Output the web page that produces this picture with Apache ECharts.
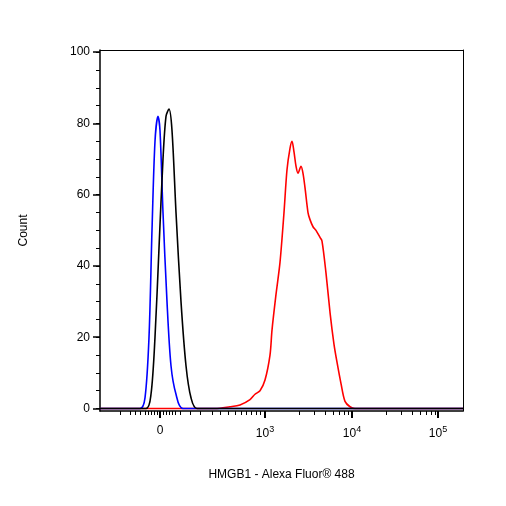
<!DOCTYPE html>
<html><head><meta charset="utf-8">
<script src="https://cdn.jsdelivr.net/npm/echarts@6/dist/echarts.min.js"></script>
<style>html,body{margin:0;padding:0;background:#fff}#c{width:506px;height:506px}</style>
</head><body><div id="c"></div>
<script>
// x values are in display channel units (0 = zero, 10^3 at 105, 10^4 at 192, 10^5 at 278)
const xTickVals = [0, 105, 192, 278];
const xTickLabels = ['0', '10^3', '10^4', '10^5'];
const yTickVals = [0, 20, 40, 60, 80, 100];
const blueData = [[-60,0],[-20,0],[-15,3],[-11,20],[-8,50],[-5,75],[-2,82],[0,78],[3,55],[7,30],[11,12],[16,4],[23,0],[303,0]];
const blackData = [[-60,0],[-14,0],[-9,4],[-5,20],[-1,45],[3,70],[6,82],[9,84],[12,78],[16,55],[21,30],[26,12],[31,3],[37,0],[303,0]];
const redData = [[-60,0],[55,0],[70,0.5],[80,1],[90,2.5],[95,4],[100,5],[105,8],[110,15],[112,22],[116,32],[120,41],[124,55],[127,67],[130,73],[132,75],[134,72],[136,68],[138,66],[141,68],[143,66],[145,62],[148,55],[150,53],[153,51],[156,50],[160,48],[162,47],[166,38],[170,27],[174,18],[177,13],[181,7],[185,2],[190,0.5],[195,0],[303,0]];
const minorY = [];
for (let v = 0; v <= 100; v += 5) minorY.push(v);
const minorX = [-40,-30,-25,-20,-15,-12,-9,-6,-3,3,6,9,12,15,20,30,40,52,60,68,75,81,86,91,96,100,139,154,165,173,179,184,188,226,241,252,260,266,271,275];
const chart = echarts.init(document.getElementById('c'));
const lineS = (d, c) => ({type:'line', data:d, showSymbol:false, smooth:0.3, lineStyle:{color:c, width:1.6}, itemStyle:{color:c}, z: 3});
const F = 'Liberation Sans';
chart.setOption({
  animation:false,
  grid:{left:100, right:43, top:50, bottom:95},
  xAxis:[{type:'value', min:-60, max:303,
    axisLine:{onZero:false, lineStyle:{color:'#000', width:1.5}},
    splitLine:{show:false},
    axisTick:{customValues:xTickVals, length:7, lineStyle:{color:'#000', width:2}},
    axisLabel:{customValues:xTickVals, color:'#000', fontFamily:F, fontSize:12, margin:14,
      formatter:v=>{const i=xTickVals.indexOf(v); const s=xTickLabels[i]; if(s==='0') return '0'; const p=s.split('^'); return '{b|'+p[0]+'}{s|'+p[1]+'}';},
      rich:{b:{fontSize:12, color:'#000', fontFamily:F}, s:{fontSize:9, color:'#000', verticalAlign:'top', padding:[0,0,8,0], fontFamily:F}}},
    name:'HMGB1 - Alexa Fluor® 488', nameLocation:'middle', nameGap:58,
    nameTextStyle:{color:'#000', fontFamily:F, fontSize:12}},
   {type:'value', min:-60, max:303, position:'bottom', axisLine:{show:false, onZero:false}, splitLine:{show:false}, axisLabel:{show:false},
    axisTick:{customValues:minorX, length:4, lineStyle:{color:'#000'}}},
   {type:'value', min:-60, max:303, position:'top', axisLine:{show:true, onZero:false, lineStyle:{color:'#000', width:1}}, axisTick:{show:false}, axisLabel:{show:false}, splitLine:{show:false}}],
  yAxis:[{type:'value', min:-0.7, max:100.6,
    axisLine:{show:true, onZero:false, lineStyle:{color:'#000', width:1.5}},
    splitLine:{show:false},
    axisTick:{customValues:yTickVals, length:7, lineStyle:{color:'#000', width:1.5}},
    axisLabel:{customValues:yTickVals, color:'#000', fontFamily:F, fontSize:12, margin:10},
    name:'Count', nameLocation:'middle', nameGap:70, nameRotate:90,
    nameTextStyle:{color:'#000', fontFamily:F, fontSize:12}},
   {type:'value', min:-0.7, max:100.6, position:'left', axisLine:{show:false, onZero:false}, splitLine:{show:false}, axisLabel:{show:false},
    axisTick:{customValues:minorY, length:4, lineStyle:{color:'#000'}}},
   {type:'value', min:-0.7, max:100.6, position:'right', axisLine:{show:true, onZero:false, lineStyle:{color:'#000', width:1}}, axisTick:{show:false}, axisLabel:{show:false}, splitLine:{show:false}}],
  series:[lineS(redData,'#ff0000'), lineS(blueData,'#0000ff'), lineS(blackData,'#000000')]
});
</script></body></html>
